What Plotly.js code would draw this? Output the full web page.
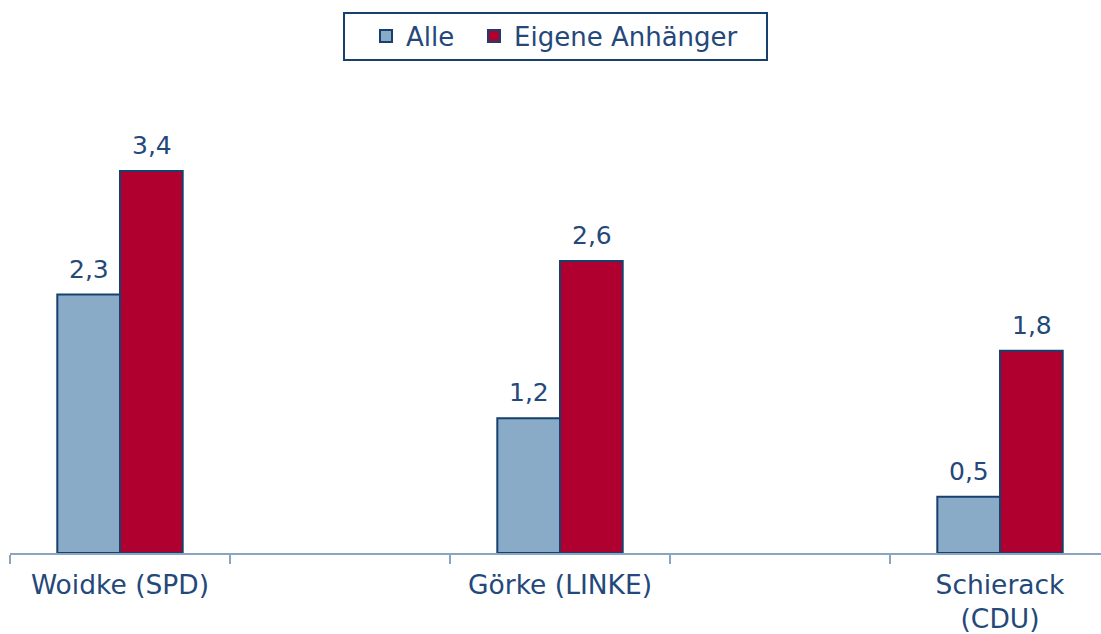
<!DOCTYPE html>
<html>
<head>
<meta charset="utf-8">
<script src="https://cdn.plot.ly/plotly-3.0.1.min.js"></script>
<style>html,body{margin:0;padding:0;background:#fff;}#chart{width:1101px;height:634px;}</style>
</head>
<body>
<div id="chart"></div>
<script>
// Data
const categories = ["Woidke (SPD)", "Görke (LINKE)", "Schierack<br>(CDU)"];
const alle = [2.3, 1.2, 0.5];
const eigene = [3.4, 2.6, 1.8];
const seriesNames = ["Alle", "Eigene Anhänger"];

// Build slots: each candidate is followed by an empty slot (for spacing / ticks)
const gapNames = [" ", "  "];
const slots = [], alleSlots = [], eigSlots = [];
categories.forEach((c, i) => {
  slots.push(c); alleSlots.push(alle[i]); eigSlots.push(eigene[i]);
  if (i < categories.length - 1) { slots.push(gapNames[i]); alleSlots.push(null); eigSlots.push(null); }
});
const fmt = v => v.toFixed(1).replace(".", ",");

const navy = "#24487A";
const outline = "#17406E";
const font = "DejaVu Sans, Verdana, sans-serif";

const traces = [
  { type: "bar", name: seriesNames[0], x: slots, y: alleSlots, hoverinfo: "skip", legend: "legend",
    marker: { color: "#8AABC7", line: { color: outline, width: 2 } } },
  { type: "bar", name: seriesNames[1], x: slots, y: eigSlots, hoverinfo: "skip", legend: "legend2",
    marker: { color: "#AF002F", line: { color: outline, width: 2 } } }
];

// value labels above each bar, placed through the data scales
const annotations = [];
categories.forEach((c, i) => {
  [[alle, -31], [eigene, 32]].forEach(([arr, dx]) => {
    annotations.push({
      x: c, y: arr[i], xref: "x", yref: "y", text: fmt(arr[i]), showarrow: false,
      xshift: dx, yshift: 9, yanchor: "bottom", xanchor: "center",
      font: { family: font, size: 25, color: navy }
    });
  });
});

const legendBase = {
  orientation: "h", xanchor: "left", y: 0.98, yref: "container", yanchor: "top",
  borderwidth: 0, bgcolor: "rgba(0,0,0,0)", font: { family: font, size: 26, color: navy }
};

const layout = {
  width: 1101, height: 634,
  margin: { l: 10, r: 0, t: 100, b: 81 },
  paper_bgcolor: "#fff", plot_bgcolor: "#fff",
  font: { family: font, color: navy },
  barmode: "group", bargap: 0.43, bargroupgap: 0,
  showlegend: true,
  legend: Object.assign({}, legendBase, { x: (366 - 10) / 1091 }),
  legend2: Object.assign({}, legendBase, { x: (474 - 10) / 1091 }),
  shapes: [{
    type: "rect", xref: "paper", yref: "paper",
    x0: (344 - 10) / 1091, x1: (767 - 10) / 1091,
    y0: 1 + (100 - 60) / 453, y1: 1 + (100 - 13) / 453,
    line: { color: outline, width: 2 }, fillcolor: "rgba(0,0,0,0)"
  }],
  annotations: annotations,
  xaxis: {
    type: "category", categoryorder: "array", categoryarray: slots,
    range: [-0.5, 4.459],
    showline: true, linecolor: "#8AA5C0", linewidth: 2,
    ticks: "outside", tickson: "boundaries", ticklen: 9, tickcolor: "#8AA5C0", tickwidth: 1.5,
    ticklabelstandoff: 7,
    tickfont: { family: font, size: 26.5, color: navy },
    showgrid: false, zeroline: false, fixedrange: true
  },
  yaxis: {
    range: [0, 4.032], visible: false, showgrid: false, zeroline: false, fixedrange: true
  }
};

Plotly.newPlot("chart", traces, layout, { displayModeBar: false, staticPlot: true });
</script>
</body>
</html>
